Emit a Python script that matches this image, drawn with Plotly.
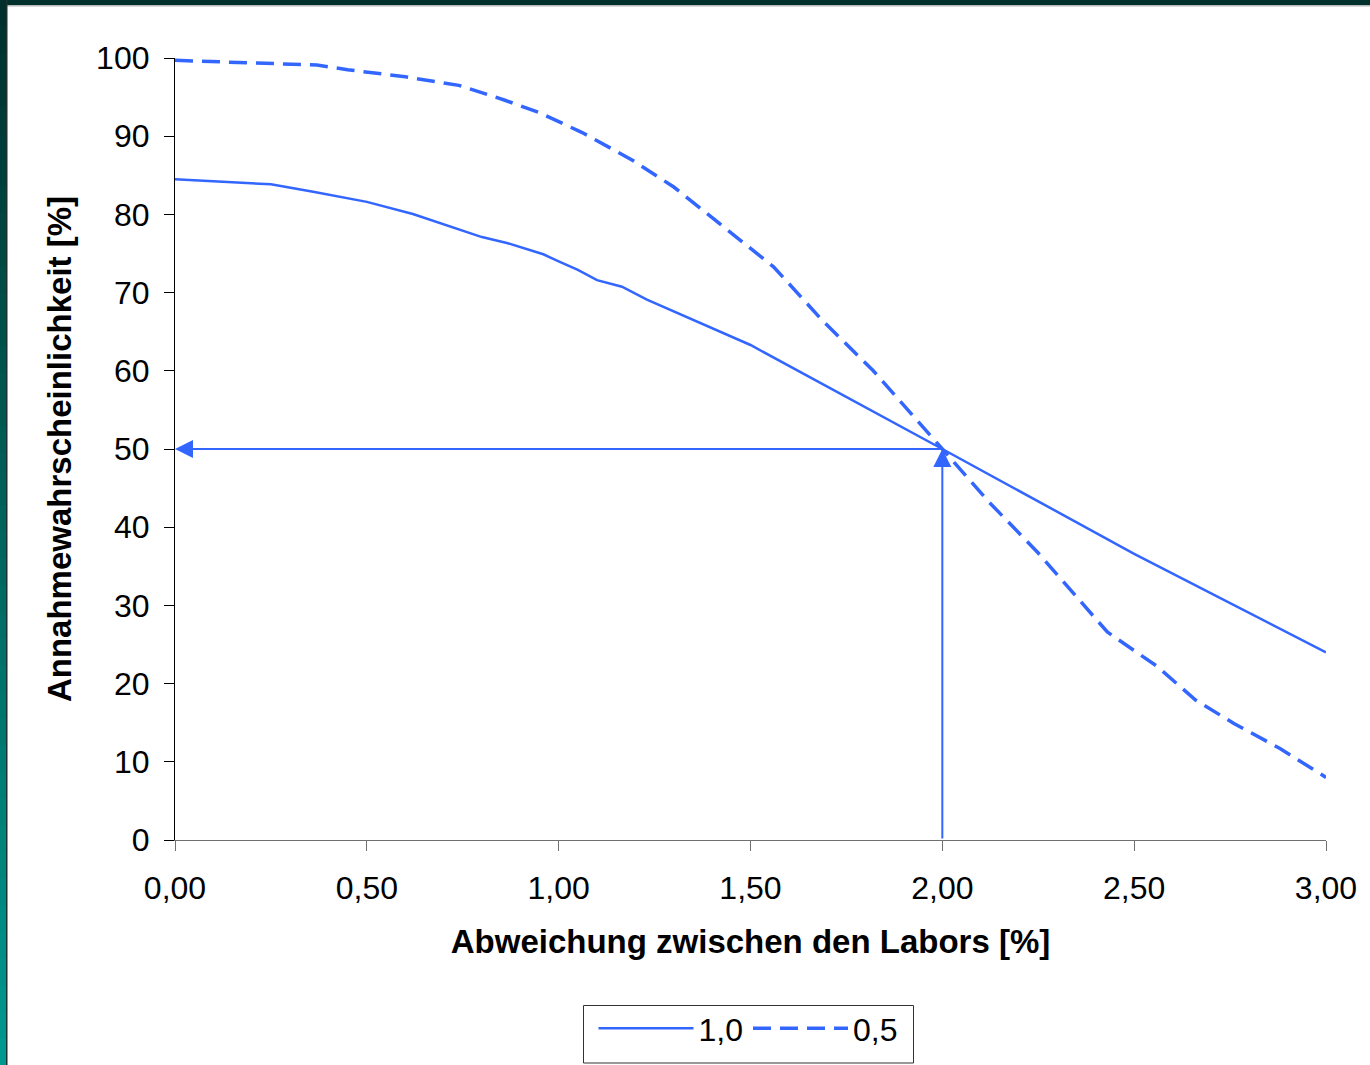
import plotly.graph_objects as go

# ---------------- data ----------------
x_solid = [0.0, 0.25, 0.36, 0.50, 0.62, 0.735, 0.80, 0.865, 0.96, 1.00, 1.05, 1.10, 1.165, 1.23, 1.50, 2.00, 2.50, 3.00]
y_solid = [84.5, 83.85, 82.9, 81.6, 80.05, 78.2, 77.1, 76.35, 74.9, 74.0, 72.9, 71.6, 70.75, 69.1, 63.3, 50.0, 36.6, 24.0]

x_dash = [0.0, 0.25, 0.37, 0.45, 0.60, 0.74, 0.86, 0.95, 1.06, 1.19, 1.30, 1.43, 1.56, 1.69, 1.82, 2.00, 2.12, 2.25, 2.37, 2.43, 2.56, 2.66, 2.76, 2.88, 3.00]
y_dash = [99.7, 99.3, 99.1, 98.5, 97.6, 96.5, 94.6, 93.0, 90.5, 87.0, 83.5, 78.4, 73.3, 66.3, 60.0, 50.0, 43.3, 36.7, 30.0, 26.6, 22.2, 17.9, 14.9, 11.7, 8.0]

series_names = ["1,0", "0,5"]
x_ticks = [0.0, 0.5, 1.0, 1.5, 2.0, 2.5, 3.0]
x_ticklabels = ["0,00", "0,50", "1,00", "1,50", "2,00", "2,50", "3,00"]
y_ticks = [0, 10, 20, 30, 40, 50, 60, 70, 80, 90, 100]
marker_x = 2.0
marker_y = 50

# ---------------- layout geometry ----------------
W, H = 1370, 1065
ML, MR, MT, MB = 175, 44, 58, 225
PW, PH = W - ML - MR, H - MT - MB

def px(x):
    return (x - ML) / PW

def py(y):
    return (H - MB - y) / PH

BLUE = "#3366FF"
FONT = "Arial, 'Liberation Sans', sans-serif"
FS = 32
FST = 33

fig = go.Figure()
fig.add_trace(go.Scatter(x=x_solid, y=y_solid, mode="lines", name=series_names[0],
                         line=dict(color=BLUE, width=2.5), cliponaxis=False))
fig.add_trace(go.Scatter(x=x_dash, y=y_dash, mode="lines", name=series_names[1],
                         line=dict(color=BLUE, width=3.5, dash="18px,9px"), cliponaxis=False))

# arrows
fig.add_annotation(x=0, y=marker_y, ax=marker_x, ay=marker_y, xref="x", yref="y", axref="x", ayref="y",
                   text="", showarrow=True, arrowhead=2, arrowsize=1.8, arrowwidth=2, arrowcolor=BLUE)
fig.add_annotation(x=marker_x, y=marker_y, ax=marker_x, ay=0, xref="x", yref="y", axref="x", ayref="y",
                   text="", showarrow=True, arrowhead=2, arrowsize=1.8, arrowwidth=2, arrowcolor=BLUE)

shapes = []
# top dark band
shapes.append(dict(type="rect", xref="paper", yref="paper", x0=px(0), x1=px(W), y0=py(0), y1=py(5),
                   fillcolor="#00302B", line=dict(width=0), layer="above"))
shapes.append(dict(type="rect", xref="paper", yref="paper", x0=px(6), x1=px(W), y0=py(5), y1=py(6.5),
                   fillcolor="#B8B8B8", line=dict(width=0), layer="above"))
# left gradient band
n = 40
c0 = (0x00, 0x30, 0x2B)
c1 = (0x00, 0x98, 0x8F)
for i in range(n):
    t = i / (n - 1)
    c = tuple(int(round(a + (b - a) * t)) for a, b in zip(c0, c1))
    y0 = H * i / n
    y1 = H * (i + 1) / n + 1
    shapes.append(dict(type="rect", xref="paper", yref="paper", x0=px(0), x1=px(6), y0=py(y0), y1=py(y1),
                       fillcolor="rgb(%d,%d,%d)" % c, line=dict(width=0), layer="above"))
shapes.append(dict(type="rect", xref="paper", yref="paper", x0=px(6), x1=px(7.5), y0=py(0), y1=py(H),
                   fillcolor="#1F3030", line=dict(width=0), layer="above"))
# legend frame
shapes.append(dict(type="rect", xref="paper", yref="paper", x0=px(583.5), x1=px(913.5), y0=py(1005.5), y1=py(1063),
                   fillcolor="rgba(0,0,0,0)", line=dict(color="#333333", width=1), layer="below"))

fig.update_layout(
    width=W, height=H,
    margin=dict(l=ML, r=MR, t=MT, b=MB, pad=0, autoexpand=False),
    paper_bgcolor="white", plot_bgcolor="white",
    font=dict(family=FONT, size=FS, color="black"),
    shapes=shapes,
    showlegend=True,
    legend=dict(orientation="h", x=px(748), xanchor="center", y=py(1001), yanchor="top",
                borderwidth=0, bgcolor="rgba(0,0,0,0)",
                font=dict(size=FS), itemwidth=95, tracegroupgap=0),
    xaxis=dict(range=[0, 3], tickvals=x_ticks, ticktext=x_ticklabels, showgrid=False, zeroline=False,
               showline=True, linecolor="#707070", linewidth=1.2, ticks="outside", ticklen=10,
               tickcolor="#707070", ticklabelstandoff=9, automargin=False,
               title=dict(text="Abweichung zwischen den Labors [%]", font=dict(size=FST, weight="bold"),
                          standoff=25)),
    yaxis=dict(range=[0, 100], tickvals=y_ticks, showgrid=False, zeroline=False,
               showline=True, linecolor="black", linewidth=1.2, ticks="outside", ticklen=10,
               tickcolor="black", ticklabelstandoff=8, automargin=False,
               title=dict(text="Annahmewahrscheinlichkeit [%]", font=dict(size=FST, weight="bold"),
                          standoff=14)),
)

fig.write_html("out.html")
